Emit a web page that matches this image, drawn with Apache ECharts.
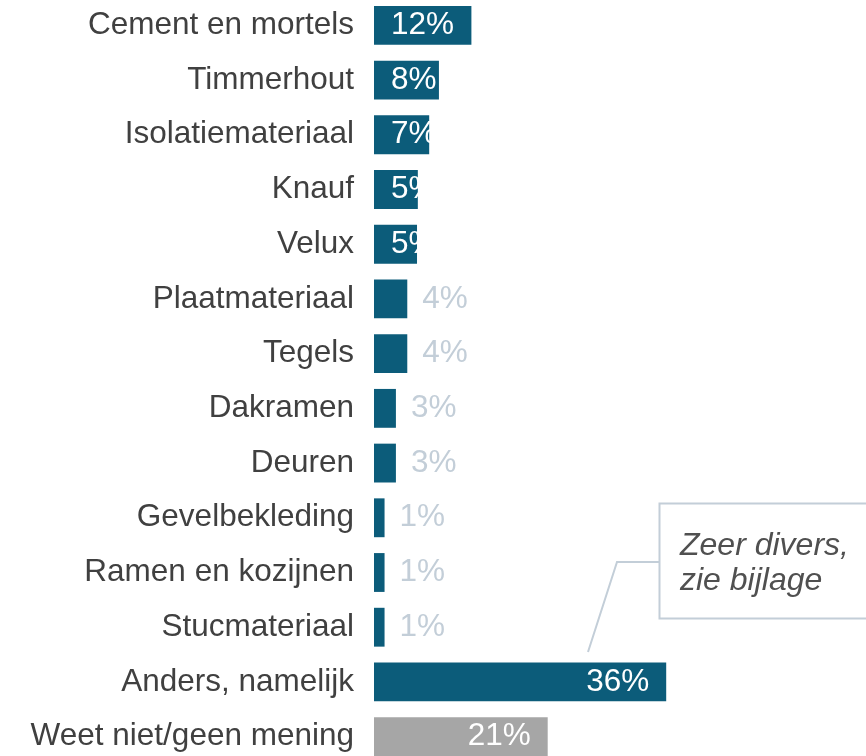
<!DOCTYPE html>
<html>
<head>
<meta charset="utf-8">
<script src="https://cdn.jsdelivr.net/npm/echarts@6/dist/echarts.min.js"></script>
<style>
html,body{margin:0;padding:0;background:#fff;overflow:hidden;width:866px;height:756px;}
#chart{position:absolute;left:0;top:-2px;width:866px;height:766px;}
</style>
</head>
<body>
<div id="chart"></div>
<script>
var categories = ["Cement en mortels","Timmerhout","Isolatiemateriaal","Knauf","Velux","Plaatmateriaal","Tegels","Dakramen","Deuren","Gevelbekleding","Ramen en kozijnen","Stucmateriaal","Anders, namelijk","Weet niet/geen mening"];
var values = [12, 8, 6.8, 5.4, 5.3, 4.1, 4.1, 2.7, 2.7, 1.3, 1.3, 1.3, 36, 21.4];
var valueLabels = ["12%","8%","7%","5%","5%","4%","4%","3%","3%","1%","1%","1%","36%","21%"];
var labelPlacement = ["in","in","in","in","in","out","out","out","out","out","out","out","end","end"];
var highlight = [false,false,false,false,false,false,false,false,false,false,false,false,false,true];
var calloutText = "Zeer divers,\nzie bijlage";

var FONT = "'Liberation Sans', Arial, sans-serif";
var BLUE = "#0c5c7a", GRAY = "#a6a6a6", LIGHT = "#c3ced8";
var FS = 31.5;

var data = values.map(function(v, i){
  var lab;
  if (labelPlacement[i] === "in") lab = {show:true, position:"insideLeft", distance:17, color:"#fff"};
  else if (labelPlacement[i] === "end") lab = {show:true, position:"insideRight", distance:17, color:"#fff"};
  else lab = {show:true, position:"right", distance:15, color:LIGHT};
  lab.formatter = valueLabels[i];
  lab.fontSize = FS; lab.fontFamily = FONT;
  return {value:v, itemStyle:{color: highlight[i] ? GRAY : BLUE}, label:lab};
});

var chart = echarts.init(document.getElementById('chart'), null, {renderer:'canvas'});
// container is shifted up 2px, so graphic y coordinates are +2
chart.setOption({
  animation:false,
  grid:{left:374, top:0, right:5, bottom:0, containLabel:false},
  xAxis:{type:'value', min:0, max:60, show:false},
  yAxis:{type:'category', data:categories, inverse:true,
    axisLine:{show:false}, axisTick:{show:false}, splitLine:{show:false},
    axisLabel:{fontSize:FS, fontFamily:FONT, color:'#404040', margin:20}},
  series:[{type:'bar', data:data, barCategoryGap:'29%', clip:false}],
  graphic:[
    {type:'polyline', shape:{points:[[659,564],[617,564],[588,654]]}, style:{stroke:LIGHT, lineWidth:2, fill:null}},
    {type:'rect', shape:{x:659.5,y:505.5,width:240,height:115}, style:{stroke:LIGHT, lineWidth:2, fill:'#fff'}},
    {type:'text', x:680, y:531, style:{text:calloutText, font:"italic 32px 'Liberation Sans', Arial, sans-serif", fill:'#505050', lineHeight:35}}
  ]
});
</script>
</body>
</html>
